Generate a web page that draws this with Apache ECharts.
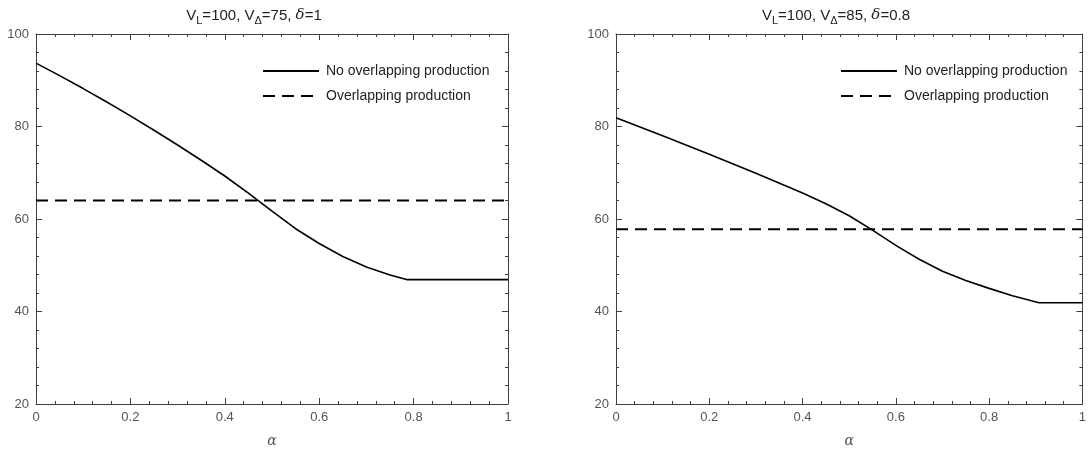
<!DOCTYPE html>
<html>
<head>
<meta charset="utf-8">
<script src="https://cdn.jsdelivr.net/npm/echarts@6/dist/echarts.min.js"></script>
<style>
  html, body { margin: 0; padding: 0; background: #fff; }
  #chart { width: 1089px; height: 453px; }
</style>
</head>
<body>
<div id="chart"></div>
<script>
// left panel: V_L=100, V_Δ=75, δ=1
const alphaLeft = [0, 0.05, 0.1, 0.15, 0.2, 0.25, 0.3, 0.35, 0.4, 0.45, 0.5, 0.55, 0.6, 0.65, 0.7, 0.75, 0.785, 0.85, 1]
const noOverlapLeft = [93.7, 91.0, 88.2, 85.3, 82.3, 79.2, 76.0, 72.7, 69.3, 65.6, 61.7, 57.9, 54.7, 51.9, 49.6, 47.9, 46.9, 46.9, 46.9]
const overlapLeft = 64

// right panel: V_L=100, V_Δ=85, δ=0.8
const alphaRight = [0, 0.1, 0.2, 0.3, 0.4, 0.45, 0.5, 0.55, 0.6, 0.65, 0.7, 0.75, 0.8, 0.85, 0.907, 1]
const noOverlapRight = [81.9, 78.0, 74.0, 69.9, 65.6, 63.3, 60.7, 57.6, 54.3, 51.3, 48.7, 46.7, 45.0, 43.4, 41.9, 41.9]
const overlapRight = 57.8

const xRange = [0, 1]
const seriesNames = ['No overlapping production', 'Overlapping production']

const axisColor = '#404040'
const labelColor = '#555555'

const titleRich = {
  n: { fontSize: 15, fontWeight: 'normal', color: '#222', fontFamily: 'Liberation Sans, Arial' },
  sub: { fontSize: 11, fontWeight: 'normal', color: '#222', fontFamily: 'Liberation Sans, Arial', padding: [10, 0, 0, 0] },
  d: { fontSize: 15, fontWeight: 'normal', color: '#222', fontFamily: 'DejaVu Serif', fontStyle: 'italic' },
}

function pairs(xs, ys) {
  return xs.map((x, i) => [x, ys[i]])
}

function xAxisFor(gridIndex, top) {
  return {
    type: 'value',
    gridIndex: gridIndex,
    position: top ? 'top' : 'bottom',
    min: 0,
    max: 1,
    interval: 0.2,
    name: top ? '' : 'α',
    nameLocation: 'middle',
    nameGap: 30,
    nameTextStyle: { color: labelColor, fontFamily: 'DejaVu Serif', fontStyle: 'italic', fontSize: 14 },
    axisLine: { show: true, onZero: false, lineStyle: { color: axisColor, width: 1 } },
    axisTick: { show: true, inside: true, length: 6, lineStyle: { color: axisColor } },
    minorTick: { show: true, splitNumber: 5, length: 3, lineStyle: { color: axisColor } },
    axisLabel: { show: !top, color: labelColor, fontSize: 13, margin: 7, fontFamily: 'Liberation Sans, Arial' },
    splitLine: { show: false },
  }
}

function yAxisFor(gridIndex, right) {
  return {
    type: 'value',
    gridIndex: gridIndex,
    position: right ? 'right' : 'left',
    min: 20,
    max: 100,
    interval: 20,
    axisLine: { show: true, onZero: false, lineStyle: { color: axisColor, width: 1 } },
    axisTick: { show: true, inside: true, length: 6, lineStyle: { color: axisColor } },
    minorTick: { show: true, splitNumber: 5, length: 3, lineStyle: { color: axisColor } },
    axisLabel: { show: !right, color: labelColor, fontSize: 13, margin: 7, fontFamily: 'Liberation Sans, Arial' },
    splitLine: { show: false },
  }
}

function legendFor(left) {
  return {
    orient: 'vertical',
    left: left,
    top: 59,
    itemWidth: 56,
    itemHeight: 14,
    itemGap: 11,
    data: seriesNames,
    itemStyle: { opacity: 0 },
    textStyle: { color: '#222', fontSize: 14, fontFamily: 'Liberation Sans, Arial', padding: [0, 0, 0, 2] },
  }
}

const myChart = echarts.init(document.getElementById('chart'))
const option = {
  animation: false,
  backgroundColor: '#fff',
  title: [
    {
      text: '{n|V}{sub|L}{n|=100, V}{sub|Δ}{n|=75, }{d|δ}{n|=1}',
      left: 249,
      top: 0,
      textAlign: 'center',
      textStyle: { rich: titleRich },
    },
    {
      text: '{n|V}{sub|L}{n|=100, V}{sub|Δ}{n|=85, }{d|δ}{n|=0.8}',
      left: 831,
      top: 0,
      textAlign: 'center',
      textStyle: { rich: titleRich },
    },
  ],
  legend: [legendFor(257), legendFor(835)],
  grid: [
    { left: 36, right: 581, top: 34, bottom: 47 },
    { left: 616, right: 1, top: 34, bottom: 47 },
  ],
  xAxis: [xAxisFor(0, false), xAxisFor(0, true), xAxisFor(1, false), xAxisFor(1, true)],
  yAxis: [yAxisFor(0, false), yAxisFor(0, true), yAxisFor(1, false), yAxisFor(1, true)],
  series: [
    {
      name: seriesNames[0],
      type: 'line',
      xAxisIndex: 0,
      yAxisIndex: 0,
      symbol: 'none',
      lineStyle: { color: '#000', width: 1.6 },
      itemStyle: { color: '#000' },
      data: pairs(alphaLeft, noOverlapLeft),
    },
    {
      name: seriesNames[1],
      type: 'line',
      xAxisIndex: 0,
      yAxisIndex: 0,
      symbol: 'none',
      lineStyle: { color: '#000', width: 2, type: [12, 7] },
      itemStyle: { color: '#000' },
      data: pairs(xRange, [overlapLeft, overlapLeft]),
    },
    {
      name: seriesNames[0],
      type: 'line',
      xAxisIndex: 2,
      yAxisIndex: 2,
      symbol: 'none',
      lineStyle: { color: '#000', width: 1.6 },
      itemStyle: { color: '#000' },
      data: pairs(alphaRight, noOverlapRight),
    },
    {
      name: seriesNames[1],
      type: 'line',
      xAxisIndex: 2,
      yAxisIndex: 2,
      symbol: 'none',
      lineStyle: { color: '#000', width: 2, type: [12, 7] },
      itemStyle: { color: '#000' },
      data: pairs(xRange, [overlapRight, overlapRight]),
    },
  ],
}
myChart.setOption(option)
</script>
</body>
</html>
